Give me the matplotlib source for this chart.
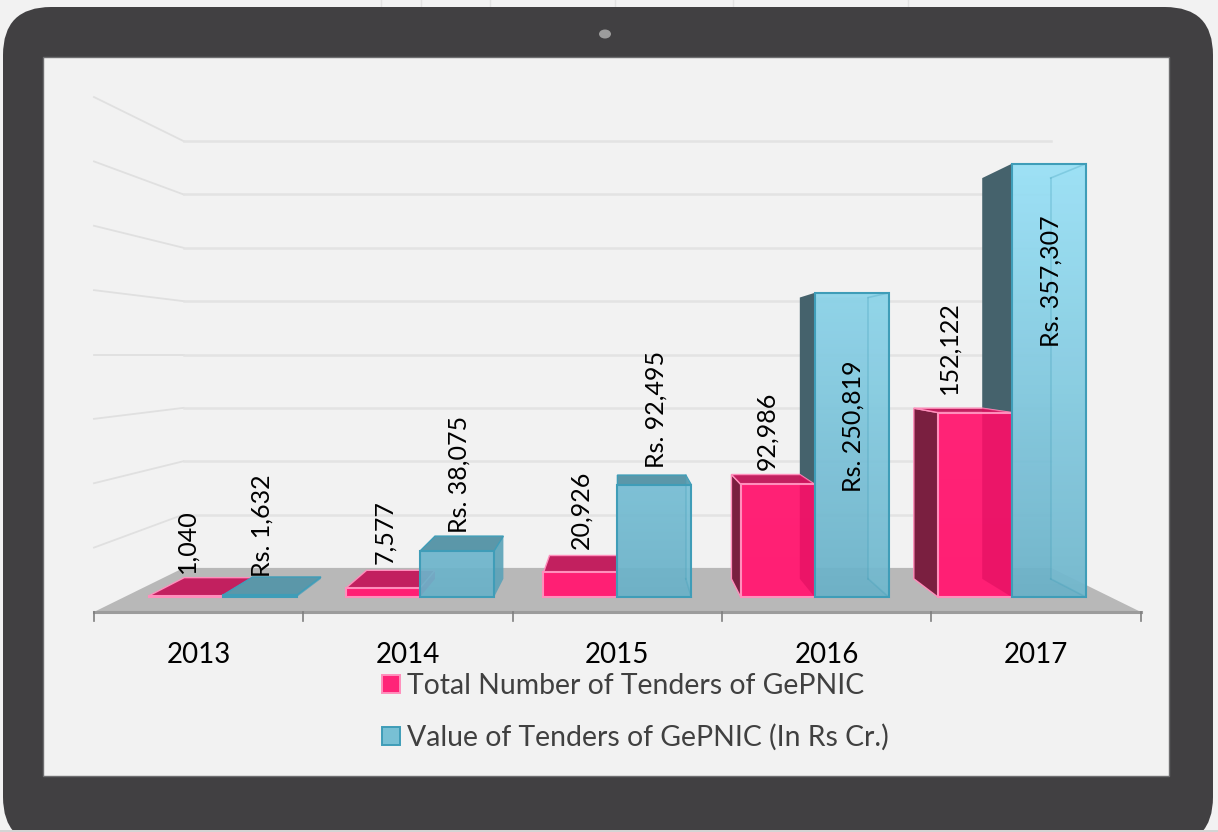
import numpy as np
import matplotlib
matplotlib.use('Agg')
import matplotlib.pyplot as plt
from matplotlib.patches import FancyBboxPatch, Rectangle, Ellipse, Polygon, Patch

plt.rcParams['font.family'] = ['Lato', 'DejaVu Sans']

years = ['2013', '2014', '2015', '2016', '2017']
tenders = [1040, 7577, 20926, 92986, 152122]
values = [1632, 38075, 92495, 250819, 357307]
legend_labels = ['Total Number of Tenders of GePNIC', 'Value of Tenders of GePNIC (In Rs Cr.)']
grid_values = [50000, 100000, 150000, 200000, 250000, 300000, 350000, 400000]

# label offsets in pixels above the bar front
tender_gaps = [23, 24, 23, 14, 19]
value_gaps = [18, 18, 17, -199, -183]

W, H = 1218, 832
PX_X = 197.2
PX_Y = 1.2125e-3
VX, VY = 2.0, 200000.0      # vanishing point
T_FRONT, T_BAR, T_WALL = 1.0617, 0.925, 0.88
BAR_W = 0.375

PINK = dict(front_top='#FF2A7A', front_bottom='#FF1F74', edge='#FF8FBC', top='#C2205F',
            side='#7A1F40', inner='#D80A5C', inner_a=0.5, right='#E6146A', front_a=1.0, line_a=0.0)
BLUE = dict(front_top='#97E0F6', front_bottom='#6AB1C8', edge='#3F9DB8', top='#5B97A9',
            side='#45626C', inner='#A4E4F4', inner_a=0.12, right='#5AA2B8', front_a=0.93, line_a=0.3)


def project(x, y, t):
    return VX + t * (x - VX), VY + t * (y - VY)


def hex_rgb(c):
    return np.array(matplotlib.colors.to_rgb(c))


def face(ax, pts, color, z, alpha=1.0, edge=None, lw=1.5):
    p = Polygon(pts, closed=True, facecolor=color, edgecolor=edge if edge else 'none',
                linewidth=lw if edge else 0, alpha=alpha, zorder=z)
    ax.add_patch(p)
    return p


def left_face(ax, x0, v, c, z):
    if x0 > VX + 1e-6:
        pts = [(x0, 0), (x0, v), project(x0, v, T_BAR), project(x0, 0, T_BAR)]
        face(ax, pts, c['side'], z, edge=c['edge'] if c is PINK else None, lw=1.0)


def draw_bar(ax, x0, v, c, z, vmax):
    x1 = x0 + BAR_W
    if x1 < VX - 1e-6:
        pts = [(x1, 0), (x1, v), project(x1, v, T_BAR), project(x1, 0, T_BAR)]
        face(ax, pts, c['right'], z + 0.1, alpha=0.9)
    top = [(x0, v), (x1, v), project(x1, v, T_BAR), project(x0, v, T_BAR)]
    if v < VY:
        face(ax, top, c['top'], z + 0.2, edge=c['edge'], lw=1.0)
    # front face, colour runs with height on one shared gradient
    n = 64
    f = np.linspace(0, v / vmax, n)[::-1][:, None]
    rgb = hex_rgb(c['front_bottom']) + f[..., None] * (hex_rgb(c['front_top']) - hex_rgb(c['front_bottom']))
    alpha = np.full((n, 1, 1), c['front_a'])
    ax.imshow(np.concatenate([rgb, alpha], axis=2), extent=(x0, x1, 0, v), aspect='auto',
              interpolation='bilinear', zorder=z + 0.3)
    if x1 > VX + 1e-6:
        pts = [(x1, 0), (x1, v), project(x1, v, T_BAR), project(x1, 0, T_BAR)]
        face(ax, pts, c['inner'], z + 0.4, alpha=c['inner_a'])
        ax.plot(*zip(project(x1, 0, T_BAR), project(x1, v, T_BAR)), color=c['edge'], alpha=c['line_a'], lw=1.2, zorder=z + 0.4)
        ax.plot(*zip((x1, 0), project(x1, 0, T_BAR)), color=c['edge'], alpha=c['line_a'], lw=1.2, zorder=z + 0.4)
    if v > VY:
        # top seen from below, only through the front face
        p = face(ax, top, c['inner'], z + 0.4, alpha=0.2)
        p.set_clip_path(Rectangle((x0, 0), BAR_W, v, transform=ax.transData))
    ax.add_patch(Polygon([(x0, 0), (x0, v), (x1, v), (x1, 0)], closed=True, fill=False,
                         edgecolor=c['edge'], linewidth=1.5, zorder=z + 0.5))
    if x1 > VX + 1e-6 and v > VY:
        ax.plot(*zip((x1, v), project(x1, v, T_BAR)), color=c['edge'], alpha=0.3, lw=1.2, zorder=z + 0.5)


fig = plt.figure(figsize=(W / 100, H / 100), dpi=100, facecolor='#F2F2F2')

# tablet frame, in pixels
bg = fig.add_axes([0, 0, 1, 1])
bg.set_xlim(0, W)
bg.set_ylim(H, 0)
bg.axis('off')
for xp in [381, 421, 490, 615, 733, 908]:
    bg.plot([xp, xp], [0, 8], color='#E2E2E2', lw=1, zorder=0)
frame = FancyBboxPatch((51, 55), 1114, 742, boxstyle='round,pad=48,rounding_size=48',
                       facecolor='#414042', edgecolor='none')
bg.add_patch(frame)
frame.set_clip_path(Rectangle((0, 0), W, 830, transform=bg.transData))
bg.add_patch(Rectangle((0, 830), W, 2, facecolor='#D4D4D4', edgecolor='none'))
bg.add_patch(Rectangle((43, 57), 1126, 719, facecolor='#F2F2F2', edgecolor='#6E6E70', linewidth=1))
bg.add_patch(Ellipse((605, 34), 12, 9, facecolor='#9C9C9C', edgecolor='none'))

# chart axes, x in category slots and y in value units at the bar plane
ax = fig.add_axes([0, 0, 1, 1])
ax.patch.set_alpha(0)
ax.axis('off')

xs = np.arange(len(years))
xl, xr = -0.5, len(years) - 0.5

for g in grid_values:
    ax.plot(*zip(project(xl, g, T_FRONT), project(xl, g, T_WALL)), color='#E0E0E0', lw=1.3, zorder=1)
    ax.plot(*zip(project(xl, g, T_WALL), project(xr, g, T_WALL)), color='#E3E3E3', lw=1.8, zorder=1)

face(ax, [project(xl, 0, T_FRONT), project(xr, 0, T_FRONT), project(xr, 0, T_WALL), project(xl, 0, T_WALL)],
     '#B8B8B8', 1.5)
ax.plot(*zip(project(xl, 0, T_FRONT), project(xr, 0, T_FRONT)), color='#9C9C9C', lw=2.2, zorder=1.6)

tick_len = 9 / PX_Y
for e in np.arange(len(years) + 1) - 0.5:
    tx, ty = project(e, 0, T_FRONT)
    ax.plot([tx, tx], [ty, ty - tick_len], color='#7F7F7F', lw=1.2, zorder=1.6)

vmax = max(values)
for x, v in zip(xs, values):
    left_face(ax, x, v, BLUE, 2)
for x, v in zip(xs, tenders):
    left_face(ax, x - BAR_W, v, PINK, 3)
    draw_bar(ax, x - BAR_W, v, PINK, 3.1, vmax)
for x, v in zip(xs, values):
    draw_bar(ax, x, v, BLUE, 4, vmax)

for x, v, gap in zip(xs, tenders, tender_gaps):
    front = x - BAR_W / 2
    lx = min(front, project(front, v, T_BAR)[0])
    ax.annotate(f'{v:,}', (lx, v), xytext=(1, gap), textcoords='offset pixels', rotation=90,
                ha='center', va='bottom', fontsize=18, color='black', zorder=6)
for x, v, gap in zip(xs, values, value_gaps):
    ax.annotate(f'Rs. {v:,}', (x + BAR_W / 2, v), xytext=(2, gap), textcoords='offset pixels', rotation=90,
                ha='center', va='bottom', fontsize=18, color='black', zorder=6)

for x, yr in zip(xs, years):
    tx, ty = project(x, 0, T_FRONT)
    ax.annotate(yr, (tx, ty), xytext=(0, -43), textcoords='offset pixels', ha='center', va='center',
                fontsize=20, color='black')

handles = [Patch(facecolor='#FF2478', edgecolor=PINK['edge'], linewidth=1.4),
           Patch(facecolor='#78C0D4', edgecolor=BLUE['edge'], linewidth=1.4)]
ax.legend(handles, legend_labels, loc='upper left', bbox_to_anchor=(382 / W, 1 - 673 / H),
          bbox_transform=fig.transFigure, frameon=False, fontsize=20.4, handlelength=0.62, handleheight=0.62,
          handletextpad=0.27, labelspacing=0.88, borderpad=0, borderaxespad=0, labelcolor='#404040')

ax.set_xlim(-223 / PX_X, (W - 223) / PX_X)
ax.set_ylim((597 - H) / PX_Y, 597 / PX_Y)
ax.set_zorder(2)

fig.savefig('out.png', dpi=100, facecolor=fig.get_facecolor())
